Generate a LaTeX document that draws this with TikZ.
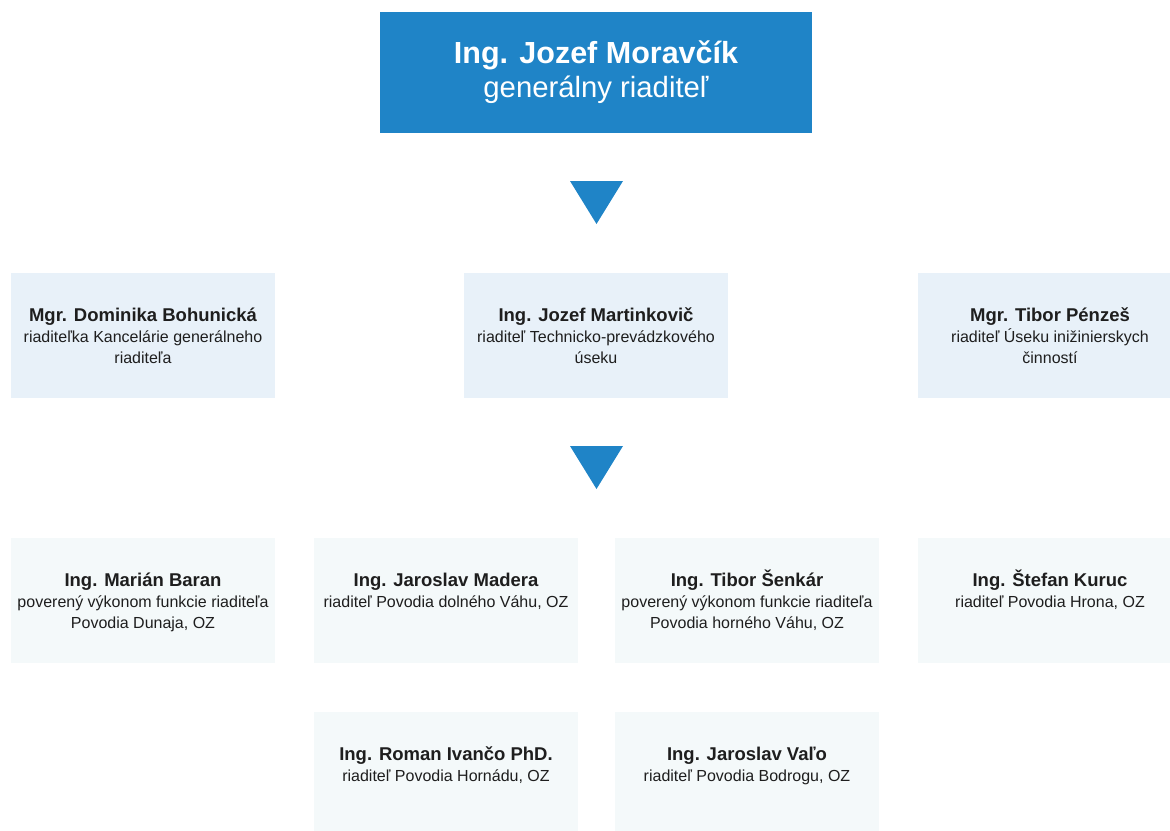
\documentclass[tikz,border=0pt]{standalone}
\usepackage{fontspec}
\setmainfont{Liberation Sans}
\definecolor{topblue}{HTML}{1F84C7}
\definecolor{midfill}{HTML}{E8F1F9}
\definecolor{lowfill}{HTML}{F4F9FA}
\definecolor{txtc}{HTML}{1E1E1E}
\tikzset{
  topbox/.style={rectangle, fill=topblue, draw=none, anchor=north west, inner sep=0, outer sep=0, minimum width=432pt, minimum height=121pt},
  midbox/.style={rectangle, fill=midfill, draw=none, anchor=north west, inner sep=0, outer sep=0, minimum width=264pt, minimum height=125pt},
  lowbox/.style={rectangle, fill=lowfill, draw=none, anchor=north west, inner sep=0, outer sep=0, minimum width=264pt, minimum height=125pt},
  pname/.style={anchor=base, inner sep=0, text=txtc, font=\fontsize{18.5}{22}\selectfont\bfseries},
  pdesc/.style={anchor=base, inner sep=0, text=txtc, font=\fontsize{16}{21.5}\selectfont},
  tname/.style={anchor=base, inner sep=0, text=white, font=\fontsize{30.5}{34}\selectfont\bfseries},
  tdesc/.style={anchor=base, inner sep=0, text=white, font=\fontsize{29.3}{34}\selectfont},
  arrowtri/.style={fill=topblue, draw=none}
}
\newcommand{\dlines}[1]{\parbox[t]{258pt}{\centering #1}}
\begin{document}
\begin{tikzpicture}[x=1pt, y=-1pt]
\useasboundingbox (0,0) rectangle (1170,830);
\begin{scope}
\clip (0,0) rectangle (1170,830);
% top
\node[topbox] (top) at (380,12) {};
\node[tname] (topn) at (596,63) {Ing. Jozef Moravčík};
\node[tdesc] (topd) at (596,97) {generálny riaditeľ};
% triangles
\fill[arrowtri] (570,181) -- (623,181) -- (596.5,224) -- cycle;
\fill[arrowtri] (570,446) -- (623,446) -- (596.5,489) -- cycle;
% row 2
\node[midbox] (b1) at (11,273) {};
\node[midbox] (b2) at (464,273) {};
\node[midbox] (b3) at (918,273) {};
\node[pname] (b1n) at (143,321) {Mgr. Dominika Bohunická};
\node[pdesc] (b1d) at (143,342) {\dlines{riaditeľka Kancelárie generálneho\\riaditeľa}};
\node[pname] (b2n) at (596,321) {Ing. Jozef Martinkovič};
\node[pdesc] (b2d) at (596,342) {\dlines{riaditeľ Technicko-prevádzkového\\úseku}};
\node[pname] (b3n) at (1050,321) {Mgr. Tibor Pénzeš};
\node[pdesc] (b3d) at (1050,342) {\dlines{riaditeľ Úseku inižinierskych\\činností}};
% row 3
\node[lowbox] (c1) at (11,538) {};
\node[lowbox] (c2) at (314,538) {};
\node[lowbox] (c3) at (615,538) {};
\node[lowbox] (c4) at (918,538) {};
\node[pname] (c1n) at (143,586) {Ing. Marián Baran};
\node[pdesc] (c1d) at (143,607) {\dlines{poverený výkonom funkcie riaditeľa\\Povodia Dunaja, OZ}};
\node[pname] (c2n) at (446,586) {Ing. Jaroslav Madera};
\node[pdesc] (c2d) at (446,607) {\dlines{riaditeľ Povodia dolného Váhu, OZ}};
\node[pname] (c3n) at (747,586) {Ing. Tibor Šenkár};
\node[pdesc] (c3d) at (747,607) {\dlines{poverený výkonom funkcie riaditeľa\\Povodia horného Váhu, OZ}};
\node[pname] (c4n) at (1050,586) {Ing. Štefan Kuruc};
\node[pdesc] (c4d) at (1050,607) {\dlines{riaditeľ Povodia Hrona, OZ}};
% row 4
\node[lowbox] (e1) at (314,712) {};
\node[lowbox] (e2) at (615,712) {};
\node[pname] (e1n) at (446,760) {Ing. Roman Ivančo PhD.};
\node[pdesc] (e1d) at (446,781) {\dlines{riaditeľ Povodia Hornádu, OZ}};
\node[pname] (e2n) at (747,760) {Ing. Jaroslav Vaľo};
\node[pdesc] (e2d) at (747,781) {\dlines{riaditeľ Povodia Bodrogu, OZ}};
\end{scope}
\end{tikzpicture}
\end{document}
